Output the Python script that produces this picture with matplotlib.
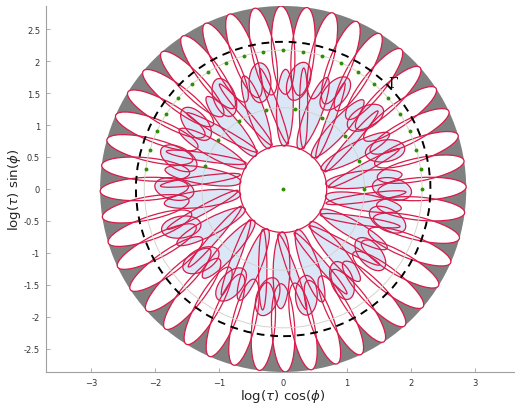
import numpy as np
import matplotlib
matplotlib.use("Agg")
import matplotlib.pyplot as plt  # noqa: E402
from matplotlib.patches import Circle, Ellipse  # noqa: E402

# ring radii in log(tau)
R_DISK = 2.86
R_CORE = 0.68
R_INNER = 1.27
R_OUTER = 2.17
R_GAMMA = 2.30

# sample angles (deg) of the green points, upper half only
outer_phi = [0.0, 8.2, 16.4, 24.5, 32.7, 40.9, 49.1, 57.3, 65.5, 73.6, 81.8,
             90.0, 98.2, 106.4, 114.5, 122.7, 130.9, 139.1, 147.3, 155.5,
             163.6, 171.8]
inner_phi = [0.0, 20.5, 40.9, 61.4, 81.8, 102.3, 122.7, 143.2, 163.6]

# ellipse families: (centre radius, radial length, tangential width, tilt deg, angle offset)
OUTER_ELL = (2.17, 1.38, 0.36, 3.0, 0.0)
MID_ELL = (1.70, 0.62, 0.34, -12.0, 0.0)
PETAL_ELL = (1.27, 1.20, 0.26, 0.0, 7.0)
THIN_ELL = (1.30, 1.26, 0.13, 14.0, -6.0)

EDGE = "#d81b4a"
BLUE = "#dbe7f7"
GREEN = "#2f8f00"


def angles_both(phi):
    phi = np.asarray(phi)
    return np.concatenate([phi, phi + 180.0])


def draw_family(ax, phis, spec, fc, zf, ze):
    r, w, h, tilt, off = spec
    for p in phis:
        t = np.deg2rad(p + off)
        xy = (r * np.cos(t), r * np.sin(t))
        ax.add_patch(Ellipse(xy, w, h, angle=p + off + tilt, fc=fc, ec="none", zorder=zf))
        ax.add_patch(Ellipse(xy, w, h, angle=p + off + tilt, fill=False, ec=EDGE,
                             lw=0.9, zorder=ze))


def main():
    fig = plt.figure(figsize=(5.15, 4.06), dpi=100)
    ax = fig.add_axes([0.0887, 0.0813, 0.9223, 0.9015])

    ax.add_patch(Circle((0, 0), R_DISK, fc="#808080", ec="none", zorder=1))
    ax.add_patch(Circle((0, 0), 2.1, fc="white", ec="none", zorder=1.5))

    draw_family(ax, angles_both(outer_phi), OUTER_ELL, "white", 2, 6)
    draw_family(ax, angles_both(inner_phi), THIN_ELL, BLUE, 3, 6)
    draw_family(ax, angles_both(inner_phi), PETAL_ELL, BLUE, 3.5, 6)
    draw_family(ax, angles_both(inner_phi), MID_ELL, BLUE, 4, 6)

    ax.add_patch(Circle((0, 0), R_CORE, fc="white", ec="none", zorder=5))
    ax.add_patch(Circle((0, 0), R_CORE, fill=False, ec=EDGE, lw=0.9, zorder=6))

    for r in (R_INNER, R_OUTER):
        ax.add_patch(Circle((0, 0), r, fill=False, ec="#d4d4cc", lw=0.7, zorder=7))
    ax.add_patch(Circle((0, 0), R_GAMMA, fill=False, ec="black", lw=1.4,
                        ls=(0, (4, 3)), zorder=8))

    op = np.deg2rad(outer_phi)
    ip = np.deg2rad(inner_phi)
    ax.plot(R_OUTER * np.cos(op), R_OUTER * np.sin(op), "o", color=GREEN, ms=2.8,
            mec="none", zorder=9)
    ax.plot(R_INNER * np.cos(ip), R_INNER * np.sin(ip), "o", color=GREEN, ms=2.8,
            mec="none", zorder=9)
    ax.plot([0], [0], "o", color=GREEN, ms=2.8, mec="none", zorder=9)

    ax.text(1.71, 1.66, "Γ", family="DejaVu Serif", fontsize=10, ha="center",
            va="center", zorder=10)

    ax.set_xlim(-3.71, 3.71)
    ax.set_ylim(-R_DISK, R_DISK)
    ax.set_xticks(np.arange(-3, 4, 1))
    ax.set_yticks(np.arange(-2.5, 2.51, 0.5))
    ax.set_yticklabels(["-2.5", "-2", "-1.5", "-1", "-0.5", "0", "0.5", "1",
                        "1.5", "2", "2.5"])
    for s in ("top", "right"):
        ax.spines[s].set_visible(False)
    for s in ("left", "bottom"):
        ax.spines[s].set_color("#a0a0a0")
        ax.spines[s].set_linewidth(0.8)
    ax.tick_params(direction="in", length=3, width=0.6, color="#a0a0a0",
                   labelsize=6, labelcolor="#333333", pad=4)
    ax.set_xlabel(r"log($\tau$) cos($\phi$)", fontsize=9.6, color="#262626", labelpad=0)
    ax.set_ylabel(r"log($\tau$) sin($\phi$)", fontsize=9.6, color="#262626", labelpad=1)

    fig.savefig("out.png", dpi=100)


if __name__ == "__main__":
    main()
